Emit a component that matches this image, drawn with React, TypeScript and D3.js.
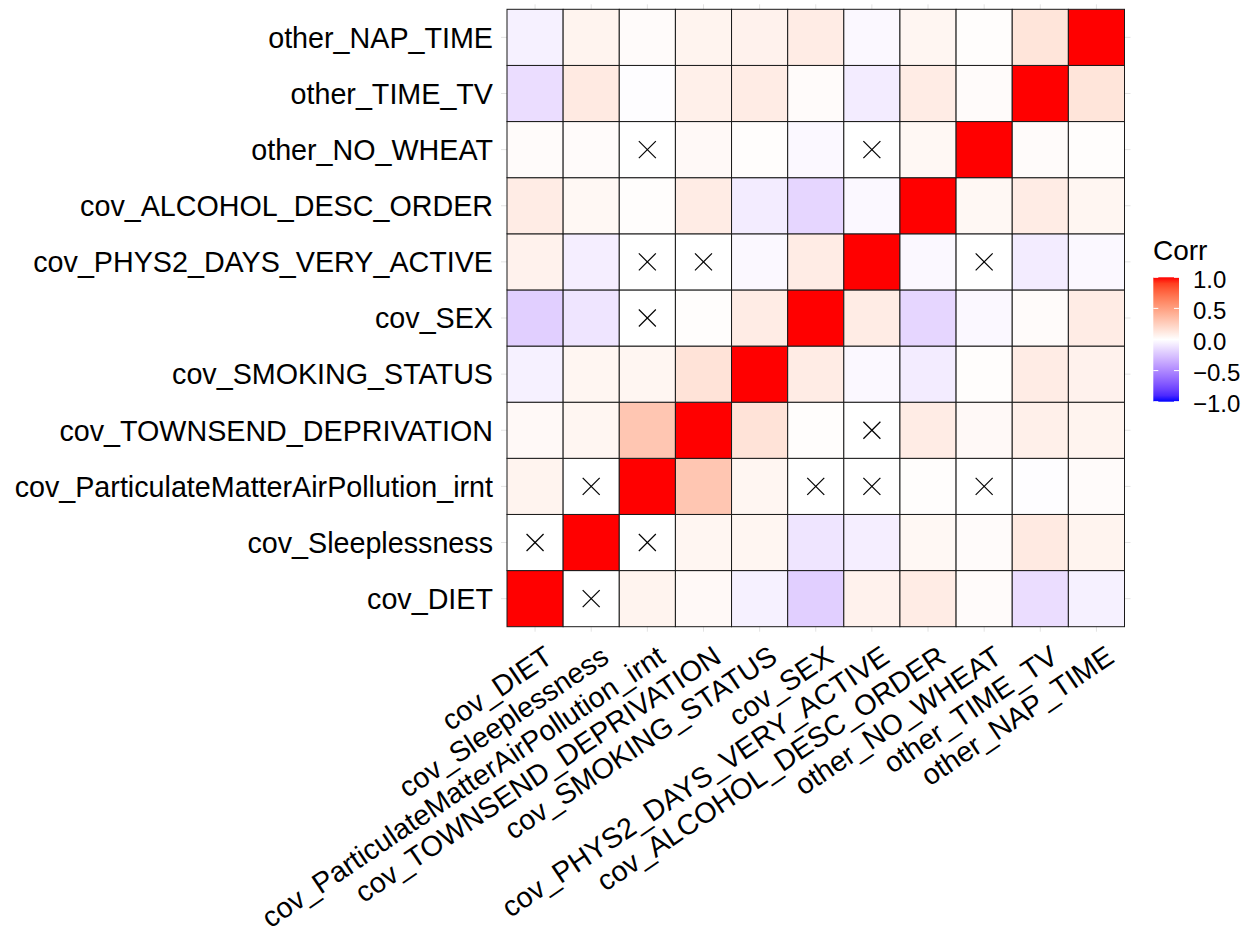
import React from "react";
import * as d3 from "d3";

const variables = [
  "cov_DIET",
  "cov_Sleeplessness",
  "cov_ParticulateMatterAirPollution_irnt",
  "cov_TOWNSEND_DEPRIVATION",
  "cov_SMOKING_STATUS",
  "cov_SEX",
  "cov_PHYS2_DAYS_VERY_ACTIVE",
  "cov_ALCOHOL_DESC_ORDER",
  "other_NO_WHEAT",
  "other_TIME_TV",
  "other_NAP_TIME",
];

// correlation rows, in the order of `variables`
const rowDIET = [1, 0, 0.06, 0.03, -0.06, -0.2, 0.07, 0.1, 0.02, -0.14, -0.06];
const rowSleep = [0, 1, 0, 0.05, 0.05, -0.11, -0.07, 0.04, 0.02, 0.11, 0.06];
const rowPM = [0.06, 0, 1, 0.3, 0.05, 0, 0, 0.01, 0, -0.01, 0.02];
const rowTownsend = [0.03, 0.05, 0.3, 1, 0.15, 0.01, 0, 0.1, 0.03, 0.08, 0.06];
const rowSmoking = [-0.06, 0.05, 0.05, 0.15, 1, 0.1, -0.03, -0.08, 0.01, 0.1, 0.07];
const rowSex = [-0.2, -0.11, 0, 0.01, 0.1, 1, 0.1, -0.17, -0.03, 0.02, 0.1];
const rowPhys = [0.07, -0.07, 0, 0, -0.03, 0.1, 1, -0.03, 0, -0.08, -0.03];
const rowAlcohol = [0.1, 0.04, 0.01, 0.1, -0.08, -0.17, -0.03, 1, 0.04, 0.1, 0.05];
const rowWheat = [0.02, 0.02, 0, 0.03, 0.01, -0.03, 0, 0.04, 1, 0.02, 0.01];
const rowTV = [-0.14, 0.11, -0.01, 0.08, 0.1, 0.02, -0.08, 0.1, 0.02, 1, 0.14];
const rowNap = [-0.06, 0.06, 0.02, 0.06, 0.07, 0.1, -0.03, 0.05, 0.01, 0.14, 1];

const corrRows = [
  rowDIET, rowSleep, rowPM, rowTownsend, rowSmoking, rowSex,
  rowPhys, rowAlcohol, rowWheat, rowTV, rowNap,
];

// insignificant pairs (index pairs into `variables`)
const insigPairs: [number, number][] = [
  [0, 1], [1, 2], [2, 5], [2, 6], [2, 8], [3, 6], [6, 8],
];

const legendBreaks = [1, 0.5, 0, -0.5, -1];
const legendLabels = ["1.0", "0.5", "0.0", "\u22120.5", "\u22121.0"];

const FONT = "'Liberation Sans', Arial, Helvetica, sans-serif";

export default function App() {
  const W = 1244, H = 931;
  const gx0 = 507, gx1 = 1124.5, gy0 = 9.3, gy1 = 626.7;

  const x = d3.scaleBand<string>().domain(variables).range([gx0, gx1]).padding(0);
  const y = d3.scaleBand<string>().domain(variables).range([gy1, gy0]).padding(0);

  const colorPos = d3.interpolateLab("#FFFFFF", "#FF0000");
  const colorNeg = d3.interpolateLab("#FFFFFF", "#0000FF");
  const fill = (v: number) => (v >= 0 ? colorPos(Math.min(1, v)) : colorNeg(Math.min(1, -v)));

  const insigSet = new Set<string>();
  insigPairs.forEach(([a, b]) => {
    insigSet.add(`${a}-${b}`);
    insigSet.add(`${b}-${a}`);
  });

  const cells: { r: number; c: number; v: number }[] = [];
  corrRows.forEach((row, r) => row.forEach((v, c) => cells.push({ r, c, v })));

  const bw = x.bandwidth();
  const crossHalf = 8.5;

  // legend
  const lx0 = 1153.3, lx1 = 1179, ly0 = 277.3, ly1 = 401.7;
  const ly = d3.scaleLinear().domain([-1, 1]).range([ly1, ly0]);
  const gradStops = d3.range(0, 1.0001, 0.05).map((t) => {
    const v = 1 - 2 * t;
    return { offset: t, color: fill(v) };
  });

  const angle = 34;

  return (
    <svg width={W} height={H} style={{ position: "absolute", left: 0, top: 0, background: "#fff" }}
      fontFamily={FONT}>
      <defs>
        <linearGradient id="corrGrad" x1="0" y1="0" x2="0" y2="1">
          {gradStops.map((s, i) => (
            <stop key={i} offset={s.offset} stopColor={s.color} />
          ))}
        </linearGradient>
      </defs>
      <rect x={0} y={0} width={W} height={H} fill="#fff" />

      {/* panel grid lines */}
      {variables.map((v) => (
        <g key={"g" + v}>
          <line x1={x(v)! + bw / 2} x2={x(v)! + bw / 2} y1={gy0 - 5} y2={gy1 + 5}
            stroke="#e3e3e3" strokeWidth={1} />
          <line y1={y(v)! + bw / 2} y2={y(v)! + bw / 2} x1={gx0 - 6} x2={gx1 + 6}
            stroke="#e3e3e3" strokeWidth={1} />
        </g>
      ))}

      {/* tiles */}
      {cells.map(({ r, c, v }) => (
        <rect key={`t${r}-${c}`} x={x(variables[c])} y={y(variables[r])}
          width={bw} height={y.bandwidth()} fill={fill(v)} stroke="#1a1a1a" strokeWidth={1} />
      ))}

      {/* insignificant crosses */}
      {cells.filter(({ r, c }) => insigSet.has(`${r}-${c}`)).map(({ r, c }) => {
        const cx = x(variables[c])! + bw / 2;
        const cy = y(variables[r])! + bw / 2;
        return (
          <g key={`x${r}-${c}`} stroke="#000" strokeWidth={1.2}>
            <line x1={cx - crossHalf} y1={cy - crossHalf} x2={cx + crossHalf} y2={cy + crossHalf} />
            <line x1={cx - crossHalf} y1={cy + crossHalf} x2={cx + crossHalf} y2={cy - crossHalf} />
          </g>
        );
      })}

      {/* y axis labels */}
      {variables.map((v) => (
        <text key={"yl" + v} x={493} y={y(v)! + bw / 2} dy="0.36em" textAnchor="end"
          fontSize={28.7} fill="#000">{v}</text>
      ))}

      {/* x axis labels */}
      {variables.map((v) => {
        const ax = x(v)! + bw / 2 + 8;
        const ay = 644;
        return (
          <text key={"xl" + v} transform={`translate(${ax},${ay}) rotate(${-angle})`} dy="0.72em"
            textAnchor="end" fontSize={28.7} fill="#000">{v}</text>
        );
      })}

      {/* legend */}
      <text x={1153} y={259.5} fontSize={28} fill="#000">Corr</text>
      <rect x={lx0} y={ly0} width={lx1 - lx0} height={ly1 - ly0} fill="url(#corrGrad)" />
      {legendBreaks.map((b, i) => (
        <g key={"lb" + i}>
          <line x1={lx0} x2={lx0 + 5} y1={ly(b)} y2={ly(b)} stroke="#fff" strokeWidth={1} />
          <line x1={lx1 - 5} x2={lx1} y1={ly(b)} y2={ly(b)} stroke="#fff" strokeWidth={1} />
          <text x={1193} y={ly(b) + 2} dy="0.36em" fontSize={24} fill="#000">{legendLabels[i]}</text>
        </g>
      ))}
    </svg>
  );
}
